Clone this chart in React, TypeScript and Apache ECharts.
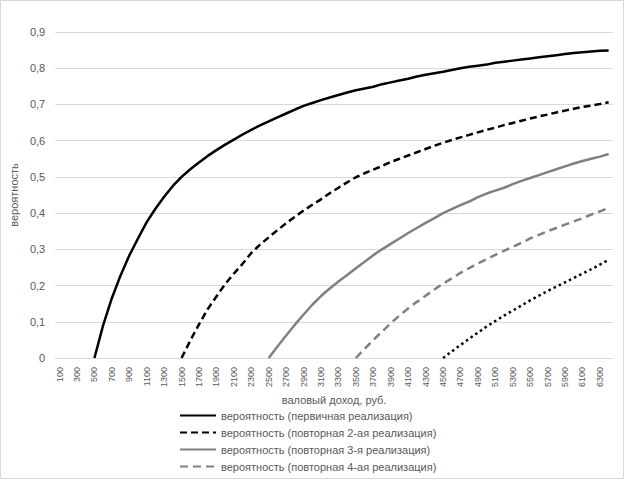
import React, { useEffect, useRef } from "react";
import * as echarts from "echarts";

const categories = [
  "100","200","300","400","500","600","700","800","900","1000",
  "1100","1200","1300","1400","1500","1600","1700","1800","1900","2000",
  "2100","2200","2300","2400","2500","2600","2700","2800","2900","3000",
  "3100","3200","3300","3400","3500","3600","3700","3800","3900","4000",
  "4100","4200","4300","4400","4500","4600","4700","4800","4900","5000",
  "5100","5200","5300","5400","5500","5600","5700","5800","5900","6000",
  "6100","6200","6300","6400",
];

const seriesNames = [
  "вероятность (первичная реализация)",
  "вероятность (повторная 2-ая реализация)",
  "вероятность (повторная 3-я реализация)",
  "вероятность (повторная 4-ая реализация)",
  "вероятность (повторная 5-ая реализация)",
];

const primary = [
  null, null, null, null, 0, 0.09, 0.165, 0.228, 0.283, 0.33,
  0.375, 0.412, 0.445, 0.475, 0.5, 0.521, 0.54, 0.558, 0.574, 0.589,
  0.603, 0.617, 0.63, 0.642, 0.653, 0.664, 0.675, 0.686, 0.696, 0.704,
  0.712, 0.719, 0.726, 0.733, 0.739, 0.744, 0.749, 0.756, 0.761, 0.766,
  0.771, 0.777, 0.782, 0.786, 0.79, 0.795, 0.8, 0.804, 0.807, 0.81,
  0.815, 0.818, 0.821, 0.824, 0.827, 0.83, 0.833, 0.836, 0.839, 0.842,
  0.844, 0.846, 0.848, 0.849,
];

const second = [
  null, null, null, null, null, null, null, null, null, null,
  null, null, null, null, 0, 0.048, 0.093, 0.135, 0.17, 0.204,
  0.233, 0.26, 0.29, 0.313, 0.333, 0.353, 0.372, 0.39, 0.407, 0.423,
  0.438, 0.455, 0.47, 0.485, 0.499, 0.51, 0.52, 0.53, 0.541, 0.55,
  0.559, 0.568, 0.577, 0.586, 0.594, 0.602, 0.609, 0.616, 0.623, 0.63,
  0.636, 0.643, 0.649, 0.655, 0.661, 0.667, 0.672, 0.678, 0.683, 0.688,
  0.693, 0.697, 0.701, 0.706,
];

const third = [
  null, null, null, null, null, null, null, null, null, null,
  null, null, null, null, null, null, null, null, null, null,
  null, null, null, null, 0, 0.032, 0.062, 0.092, 0.12, 0.147,
  0.171, 0.192, 0.211, 0.229, 0.248, 0.266, 0.284, 0.3, 0.315, 0.33,
  0.345, 0.359, 0.373, 0.386, 0.4, 0.411, 0.422, 0.432, 0.444, 0.454,
  0.462, 0.47, 0.48, 0.489, 0.497, 0.505, 0.513, 0.521, 0.529, 0.537,
  0.544, 0.55, 0.556, 0.563,
];

const fourth = [
  null, null, null, null, null, null, null, null, null, null,
  null, null, null, null, null, null, null, null, null, null,
  null, null, null, null, null, null, null, null, null, null,
  null, null, null, null, 0, 0.025, 0.05, 0.073, 0.096, 0.117,
  0.137, 0.155, 0.172, 0.189, 0.205, 0.22, 0.235, 0.248, 0.261, 0.273,
  0.285, 0.296, 0.307, 0.318, 0.33, 0.34, 0.35, 0.359, 0.368, 0.377,
  0.386, 0.396, 0.405, 0.414,
];

const fifth = [
  null, null, null, null, null, null, null, null, null, null,
  null, null, null, null, null, null, null, null, null, null,
  null, null, null, null, null, null, null, null, null, null,
  null, null, null, null, null, null, null, null, null, null,
  null, null, null, null, 0, 0.018, 0.036, 0.053, 0.07, 0.087,
  0.102, 0.117, 0.131, 0.145, 0.159, 0.172, 0.185, 0.197, 0.209, 0.221,
  0.233, 0.245, 0.258, 0.271,
];

const yTicks = { min: 0, max: 0.9, interval: 0.1 };

const FONT = "Liberation Sans";
const TEXT = "#595959";

export default function App() {
  const ref = useRef<HTMLDivElement>(null);

  useEffect(() => {
    document.body.style.margin = "0";
    if (!ref.current) return;
    const chart = echarts.init(ref.current, null, { renderer: "svg" });
    const mk = (name: string, data: any[], color: string, width: number, type: any, cap: any = "butt") => ({
      name,
      type: "line",
      data,
      symbol: "none",
      smooth: false,
      connectNulls: false,
      lineStyle: { color, width, type, cap },
      itemStyle: { color },
    });
    chart.setOption({
      animation: false,
      backgroundColor: "#ffffff",
      textStyle: { fontFamily: FONT },
      grid: { left: 53, right: 11, top: 32, bottom: 121, containLabel: false },
      graphic: [
        {
          type: "rect",
          shape: { x: 0.5, y: 0.5, width: 623, height: 478 },
          style: { fill: "none", stroke: "#d9d9d9", lineWidth: 1 },
          silent: true,
        },
      ],
      legend: {
        orient: "vertical",
        left: 179,
        top: 410,
        padding: 0,
        itemWidth: 36,
        itemHeight: 10,
        itemGap: 6,
        itemStyle: { opacity: 0 },
        data: seriesNames.slice(0, 4),
        textStyle: { color: TEXT, fontSize: 11, fontFamily: FONT },
      },
      xAxis: {
        type: "category",
        data: categories,
        boundaryGap: true,
        name: "валовый доход, руб.",
        nameLocation: "middle",
        nameGap: 22,
        nameTextStyle: { color: TEXT, fontSize: 11, fontFamily: FONT },
        axisLine: { show: true, lineStyle: { color: "#d9d9d9", width: 1 } },
        axisTick: { show: false },
        axisLabel: {
          interval: 1,
          rotate: 90,
          color: TEXT,
          fontSize: 9,
          fontFamily: FONT,
          margin: 9,
        },
        splitLine: { show: false },
      },
      yAxis: {
        type: "value",
        min: yTicks.min,
        max: yTicks.max,
        interval: yTicks.interval,
        name: "вероятность",
        nameLocation: "middle",
        nameGap: 30,
        nameRotate: 90,
        nameTextStyle: { color: TEXT, fontSize: 11, fontFamily: FONT },
        axisLine: { show: false },
        axisTick: { show: false },
        axisLabel: {
          color: TEXT,
          fontSize: 11,
          fontFamily: FONT,
          margin: 10,
          formatter: (v: number) => (v === 0 ? "0" : v.toFixed(1).replace(".", ",")),
        },
        splitLine: { show: true, lineStyle: { color: "#d9d9d9", width: 1 } },
      },
      series: [
        mk(seriesNames[0], primary, "#000000", 2.5, "solid"),
        mk(seriesNames[1], second, "#000000", 2.5, [7, 4]),
        mk(seriesNames[2], third, "#808080", 2.5, "solid"),
        mk(seriesNames[3], fourth, "#808080", 2.5, [8, 5]),
        mk(seriesNames[4], fifth, "#000000", 2.5, [2.5, 3.2]),
      ],
    });
    return () => chart.dispose();
  }, []);

  return <div ref={ref} style={{ width: 624, height: 479 }} />;
}
